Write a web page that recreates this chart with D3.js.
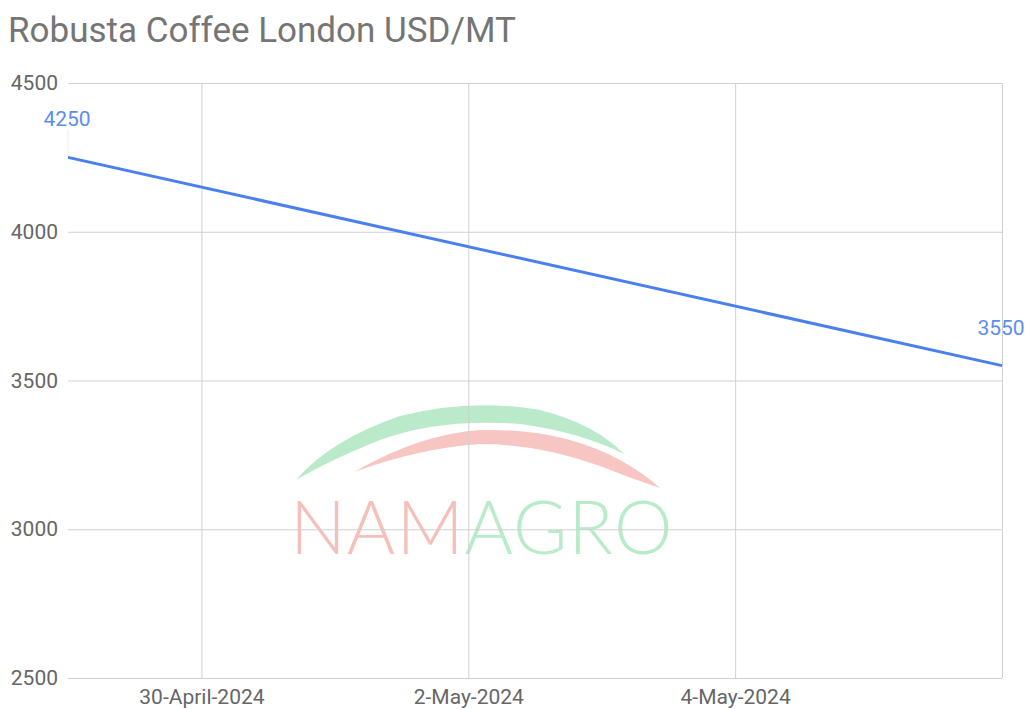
<!DOCTYPE html>
<html>
<head>
<meta charset="utf-8">
<script src="https://cdn.jsdelivr.net/npm/d3@7"></script>
<style>
  body { margin: 0; background: #fff; }
  svg { display: block; font-family: Roboto, "Noto Sans", sans-serif; }
</style>
</head>
<body>
<div id="chart"></div>
<script>
// data
var title = 'Robusta Coffee London USD/MT';
var dates = ['2024-04-29', '2024-05-06'];
var prices = [4250, 3550];
var yTicks = [2500, 3000, 3500, 4000, 4500];
var xTickDates = ['2024-04-30', '2024-05-02', '2024-05-04', '2024-05-06'];
var xTickLabels = ['30-April-2024', '2-May-2024', '4-May-2024', ''];

(function () {
  var width = 1030;
  var height = 709;
  var margin = {top: 83, right: 28, bottom: 31, left: 68};
  var lineColor = '#4a7ff0';
  var gridColor = '#d0d0d0';
  var textColor = '#666';

  var parse = d3.timeParse('%Y-%m-%d');
  var data = dates.map((d, i) => ({date: parse(d), value: prices[i]}));

  var svg = d3.select('#chart').append('svg')
    .attr('width', width).attr('height', height);

  var x = d3.scaleTime()
    .domain(d3.extent(data, d => d.date))
    .range([margin.left, width - margin.right]);
  var y = d3.scaleLinear()
    .domain([2500, 4500])
    .range([height - margin.bottom, margin.top]);

  // title
  svg.append('text')
    .attr('x', 8).attr('y', 42)
    .attr('fill', '#757575')
    .style('font-size', '35px')
    .text(title);

  // watermark
  var wm = svg.append('g').attr('opacity', 0.8);
  wm.append('path')
    .attr('d', 'M296,480 Q330,440 400,416 Q470,398 540,410 Q595,424 624,454 Q580,432 520,424 Q440,418 380,440 Q330,460 296,480 Z')
    .attr('fill', '#a9e6bd');
  wm.append('path')
    .attr('d', 'M354,472 Q420,434 480,430 Q560,428 620,460 Q645,474 660,488 Q630,478 600,466 Q540,444 480,444 Q420,448 354,472 Z')
    .attr('fill', '#f6b9b3');
  var wmText = wm.append('text')
    .attr('x', 290).attr('y', 554)
    .style('font-family', 'Lato, "Open Sans", sans-serif')
    .style('font-weight', 300)
    .style('font-size', '74px')
    .style('letter-spacing', '1px');
  wmText.append('tspan').attr('fill', '#f5b1aa').text('NAM');
  wmText.append('tspan').attr('fill', '#a7e8bb').text('AGRO');

  // horizontal gridlines
  svg.append('g')
    .attr('transform', 'translate(' + margin.left + ',0)')
    .call(d3.axisLeft(y).tickValues(yTicks).tickSize(-(width - margin.left - margin.right)).tickPadding(10).tickFormat(d3.format('d')))
    .call(g => g.select('.domain').remove())
    .call(g => g.selectAll('line').attr('stroke', gridColor))
    .call(g => g.selectAll('text').attr('fill', textColor).style('font-size', '21px').style('font-family', 'Roboto'));

  // vertical gridlines + labels
  svg.append('g')
    .attr('transform', 'translate(0,' + (height - margin.bottom) + ')')
    .call(d3.axisBottom(x).tickValues(xTickDates.map(parse)).tickSize(-(height - margin.top - margin.bottom)).tickPadding(11)
      .tickFormat((d, i) => xTickLabels[i]))
    .call(g => g.select('.domain').remove())
    .call(g => g.selectAll('line').attr('stroke', gridColor))
    .call(g => g.selectAll('text').attr('fill', textColor).style('font-size', '21px').style('font-family', 'Roboto'));

  // leader for first label
  svg.append('line')
    .attr('x1', x(data[0].date)).attr('x2', x(data[0].date))
    .attr('y1', y(data[0].value) - 28).attr('y2', y(data[0].value))
    .attr('stroke', '#eee');

  // line
  svg.append('path')
    .datum(data)
    .attr('d', d3.line().x(d => x(d.date)).y(d => y(d.value)))
    .attr('fill', 'none')
    .attr('stroke', lineColor)
    .attr('stroke-width', 3);

  // value labels
  svg.selectAll('.val')
    .data(data).enter().append('text')
    .attr('x', (d, i) => x(d.date) - 1)
    .attr('y', d => y(d.value) - 31)
    .attr('text-anchor', 'middle')
    .attr('fill', '#5b8ef0')
    .style('font-size', '21px')
    .text(d => d.value);
})();
</script>
</body>
</html>
